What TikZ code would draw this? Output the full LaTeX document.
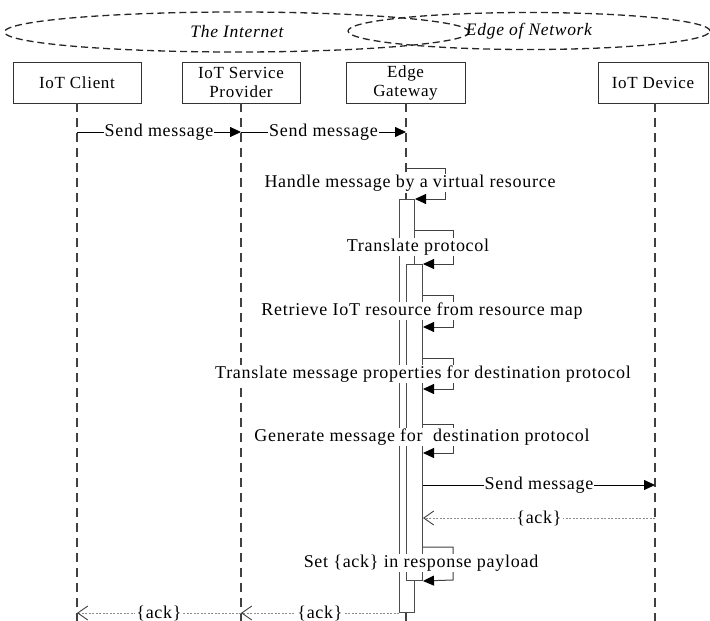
\documentclass[tikz,border=0pt]{standalone}
\usepackage{fontspec}
\setmainfont{Liberation Serif}[LetterSpace=4]
\usetikzlibrary{arrows.meta,shapes.geometric}

\begin{document}
\begin{tikzpicture}[x=1pt,y=-1pt,
  every node/.style={font=\fontsize{18}{20}\selectfont},
  actor/.style={draw=black!80, line width=1pt, minimum height=41pt, align=center, inner sep=0pt,
    font=\fontsize{17}{19}\selectfont},
  lifeline/.style={draw=black!75, line width=1.4pt, dash pattern=on 9pt off 6pt},
  zone/.style={ellipse, draw=black!85, line width=1.3pt, dash pattern=on 7pt off 4pt, inner sep=0pt,
    font=\fontsize{17.5}{19}\selectfont\itshape},
  bar/.style={draw=black!70, fill=white, line width=1pt, inner sep=0pt, anchor=north west},
  call/.style={draw=black, line width=0.8pt, -{Triangle[length=11pt,width=10pt]}},
  selfcall/.style={draw=black!75, line width=1pt, -{Triangle[length=11pt,width=10pt,black]}},
  reply/.style={draw=black!45, line width=0.9pt, dash pattern=on 2pt off 1.5pt,
    -{Straight Barb[length=10pt,width=14pt,black!75,line width=0.9pt]}},
  lbl/.style={fill=white, inner sep=1pt}
]
\useasboundingbox (0,0) rectangle (710,621);
\coordinate (bottom) at (0,621);

% network zones
\node[zone, minimum width=465pt, minimum height=40pt] (internet) at (237,32) {The Internet};
\node[zone, minimum width=362pt, minimum height=37pt] (edge) at (529,31) {Edge of Network};

% participants
\node[actor, minimum width=128pt] (client)   at (77,82.5)    {IoT Client};
\node[actor, minimum width=118pt] (provider) at (241,82.5)   {IoT Service\\Provider};
\node[actor, minimum width=119pt] (gateway)  at (405.5,82.5) {Edge\\Gateway};
\node[actor, minimum width=110pt] (device)   at (653,82.5)   {IoT Device};

% lifelines
\coordinate (lc) at (77,103);
\coordinate (lp) at (241,103);
\coordinate (lg) at (406,103);
\coordinate (ld) at (655,103);
\draw[lifeline] (lc) -- (lc |- bottom);
\draw[lifeline] (lp) -- (lp |- bottom);
\draw[lifeline] (lg) -- (lg |- bottom);
\draw[lifeline] (ld) -- (ld |- bottom);

% activation bars on the gateway
\node[bar, minimum width=15pt, minimum height=413pt] (act1) at (399,199) {};
\node[bar, minimum width=16pt, minimum height=316pt] (act2) at (406,264) {};

% incoming request
\draw[call] (lc |- 0,132) -- node[lbl] {Send message} (lp |- 0,132);
\draw[call] (lp |- 0,132) -- node[lbl] {Send message} (lg |- 0,132);

% self calls
\draw[selfcall] (lg |- 0,168) -- (445,168) -- (445,199) -- (act1.north east);
\node[lbl] at (410,183) {Handle message by a virtual resource};

\draw[selfcall] (act1.east |- 0,230) -- (453,230) -- (453,264) -- (act2.north east);
\node[lbl] at (418,247) {Translate protocol};

\draw[selfcall] (act2.east |- 0,295) -- (453,295) -- (453,327) -- (act2.east |- 0,327);
\node[lbl] at (422,311) {Retrieve IoT resource from resource map};

\draw[selfcall] (act2.east |- 0,358) -- (453,358) -- (453,389) -- (act2.east |- 0,389);
\node[lbl] at (423,374) {Translate message properties for destination protocol};

\draw[selfcall] (act2.east |- 0,424) -- (453,424) -- (453,453) -- (act2.east |- 0,453);
\node[lbl] at (422,437) {Generate message for\ \ destination protocol};

% exchange with the device
\draw[call] (act2.east |- 0,485) -- node[lbl] {Send message} (ld |- 0,485);
\draw[reply] (ld |- 0,518) -- node[lbl] {\{ack\}} (act2.east |- 0,518);

\draw[selfcall] (act2.east |- 0,547) -- (453,547) -- (453,580) -- (act2.south east);
\node[lbl] at (421,563) {Set \{ack\} in response payload};

% responses
\draw[reply] (act1.south west) -- node[lbl] {\{ack\}} (lp |- act1.south);
\draw[reply] (lp |- act1.south) -- node[lbl] {\{ack\}} (lc |- act1.south);
\end{tikzpicture}
\end{document}
